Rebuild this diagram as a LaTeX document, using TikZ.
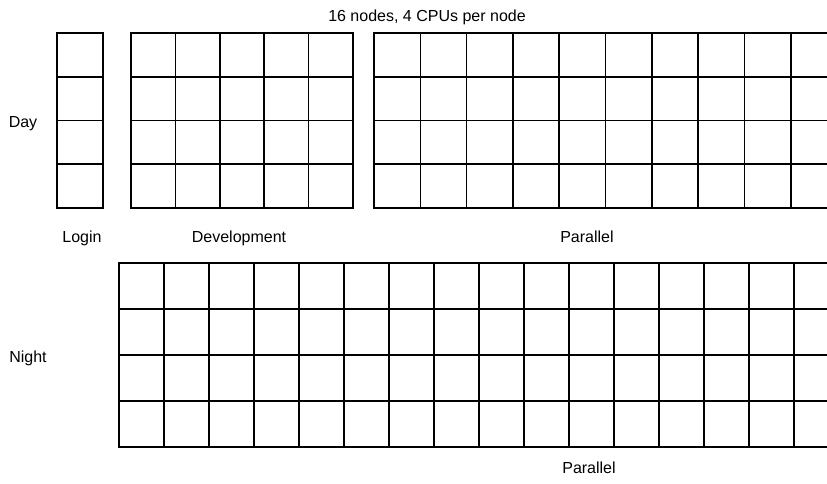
\documentclass[tikz,border=0pt]{standalone}
\usepackage{fontspec}
\setmainfont{Liberation Sans}
\tikzset{
  cellline/.style={line width=1.6pt},
  gridframe/.style={line width=2.7pt},
  lbl/.style={font=\fontsize{16}{19}\selectfont, anchor=base, inner sep=0pt},
}
\begin{document}
\begin{tikzpicture}[x=1pt, y=-1pt]
    \useasboundingbox (0,0) rectangle (827,483);
    \begin{scope}
      \clip (0,0) rectangle (827,483);

      \foreach \r in {1,2,3} \draw[cellline] (57,{33+43.75*\r}) -- (103,{33+43.75*\r});
      \draw[cellline] (57,33) rectangle (103,208);

      \foreach \c in {1,...,4} \draw[cellline] ({131+44.4*\c},33) -- ++(0,175);
      \foreach \r in {1,2,3} \draw[cellline] (131,{33+43.75*\r}) -- (353,{33+43.75*\r});
      \draw[gridframe] (131,33) rectangle (353,208);

      \foreach \c in {1,...,9} \draw[cellline] ({374+46.3*\c},33) -- ++(0,175);
      \foreach \r in {1,2,3} \draw[cellline] (374,{33+43.75*\r}) -- (840,{33+43.75*\r});
      \draw[gridframe] (374,33) rectangle (840,208);

      \foreach \c in {1,...,15} \draw[cellline] ({119+45*\c},263) -- ++(0,184);
      \foreach \r in {1,2,3} \draw[cellline] (119,{263+46*\r}) -- (842,{263+46*\r});
      \draw[gridframe] (119,263) rectangle (842,447);
    \end{scope}

    \node[lbl] (title) at (427,21) {16 nodes, 4 CPUs per node};
    \node[lbl] (day) at (23,127) {Day};
    \node[lbl] (login) at (82,242) {Login};
    \node[lbl] (dev) at (239,242) {Development};
    \node[lbl] (partop) at (587,242) {Parallel};
    \node[lbl] (night) at (28,362) {Night};
    \node[lbl] (parbot) at (589,473) {Parallel};
\end{tikzpicture}
\end{document}
